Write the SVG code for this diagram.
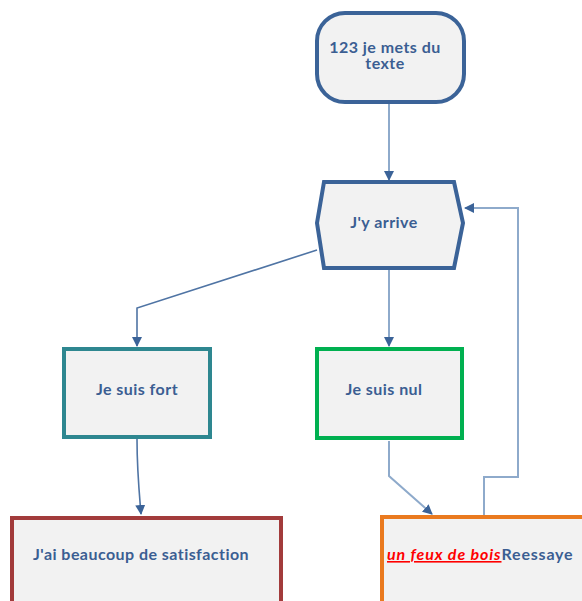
<svg xmlns="http://www.w3.org/2000/svg" width="582" height="601" viewBox="0 0 582 601">
<style>
.t{font-family:Lato,"Open Sans",sans-serif;font-weight:bold;font-size:16px;letter-spacing:0.45px;fill:#3b5e92}
.n{fill:#f2f2f2;stroke-width:4}
.c{fill:none;stroke:#8eaacb;stroke-width:2}
.c2{fill:none;stroke:#4f74a4;stroke-width:1.6}
</style>
<defs>
<marker id="b" viewBox="0 0 10 10" refX="9" refY="5" markerWidth="10" markerHeight="10" orient="auto" markerUnits="userSpaceOnUse">
<path d="M0,0 L10,5 L0,10 Z" fill="#3b6398"/>
</marker>
</defs>
<g id="connectors">
<path class="c" d="M389,104 L389,180" marker-end="url(#b)"/>
<path class="c2" d="M317,250 L137,308 L137,346" marker-end="url(#b)"/>
<path class="c" d="M389,270 L389,346" marker-end="url(#b)"/>
<path class="c2" d="M137,439 C137,470 139,490 141,514" marker-end="url(#b)"/>
<path class="c" d="M389,441 L389,476 L432,514" marker-end="url(#b)"/>
<path class="c" d="M484,515 L484,477 L518,477 L518,208 L465,208" marker-end="url(#b)"/>
</g>
<g id="start">
<rect class="n" x="317" y="13" width="147" height="89" rx="28" ry="28" stroke="#3b6398"/>
<text class="t" text-anchor="middle"><tspan x="385" y="53">123 je mets du</tspan><tspan x="385" y="69">texte</tspan></text>
</g>
<g id="arrive">
<polygon class="n" points="324,182 454,182 463,223 454,268 324,268 317,223" stroke="#3b6398"/>
<text class="t" x="384" y="228" text-anchor="middle">J'y arrive</text>
</g>
<g id="fort">
<rect class="n" x="64" y="349" width="146" height="88" stroke="#2e8790"/>
<text class="t" x="137" y="395" text-anchor="middle">Je suis fort</text>
</g>
<g id="nul">
<rect class="n" x="317" y="349" width="145" height="89" stroke="#00b050"/>
<text class="t" x="384" y="395" text-anchor="middle">Je suis nul</text>
</g>
<g id="satisfaction">
<rect class="n" x="12" y="518" width="269" height="100" stroke="#a23b3b"/>
<text class="t" x="33" y="560">J'ai beaucoup de satisfaction</text>
</g>
<g id="reessaye">
<rect class="n" x="382" y="517" width="220" height="100" stroke="#ea7a1f"/>
<text class="t" x="387" y="560"><tspan fill="#ff0000" font-style="italic" text-decoration="underline" letter-spacing="0.9px">un feux de bois</tspan><tspan letter-spacing="0.8px">Reessaye</tspan></text>
</g>
</svg>
